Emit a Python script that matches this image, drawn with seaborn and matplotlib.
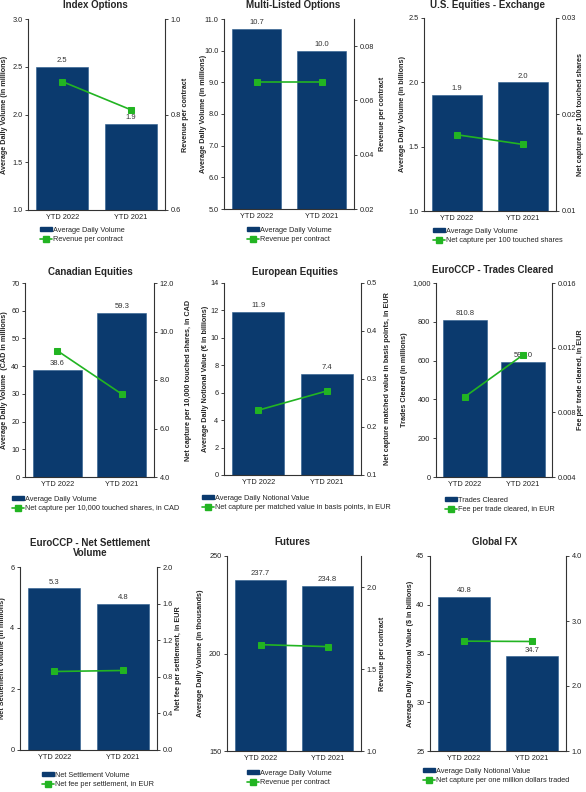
import numpy as np
import matplotlib.pyplot as plt
import matplotlib.ticker as mtick
from matplotlib.patches import Patch
from matplotlib.lines import Line2D
import seaborn as sns

sns.set_style("white")
plt.rcParams['font.family'] = ['Liberation Sans', 'DejaVu Sans']

periods = ["YTD 2022", "YTD 2021"]

# bar series (left axis) and line series (right axis)
index_adv = [2.5, 1.9]
index_rpc = [0.869, 0.810]
multi_adv = [10.7, 10.0]
multi_rpc = [0.0667, 0.0667]
us_eq_adv = [1.9, 2.0]
us_eq_capture = [0.0179, 0.0169]
cad_adv = [38.6, 59.3]
cad_capture = [9.21, 7.42]
eu_adnv = [11.9, 7.4]
eu_capture = [0.235, 0.275]
ccp_trades = [810.8, 593.0]
ccp_fee = [0.00897, 0.01155]
ccp_settle = [5.3, 4.8]
ccp_settle_fee = [0.858, 0.869]
fut_adv = [237.7, 234.8]
fut_rpc = [1.649, 1.637]
fx_adnv = [40.8, 34.7]
fx_capture = [2.69, 2.685]

navy = "#0b3a6e"
green = "#22b422"
W, H = 586, 792

panels = [
    dict(title="Index Options", bars=index_adv, line=index_rpc,
         ylab="Average Daily Volume (in millions)", y2lab="Revenue per contract",
         leg=("Average Daily Volume", "Revenue per contract"),
         ylim=(1.0, 3.0), yt=[1.0, 1.5, 2.0, 2.5, 3.0], yf='{x:.1f}',
         y2lim=(0.6, 1.0), y2t=[0.6, 0.8, 1.0], y2f='{x:.1f}',
         box=(28, 19, 165, 210), ttl=(95, 5), ylx=5, y2lx=185, lg=(40, 227)),
    dict(title="Multi-Listed Options", bars=multi_adv, line=multi_rpc,
         ylab="Average Daily Volume (in millions)", y2lab="Revenue per contract",
         leg=("Average Daily Volume", "Revenue per contract"),
         ylim=(5.0, 11.0), yt=[5, 6, 7, 8, 9, 10, 11], yf='{x:.1f}',
         y2lim=(0.02, 0.09), y2t=[0.02, 0.04, 0.06, 0.08], y2f='{x:.2f}',
         box=(224, 19, 354, 209), ttl=(293, 5), ylx=203, y2lx=383, lg=(247, 227)),
    dict(title="U.S. Equities - Exchange", bars=us_eq_adv, line=us_eq_capture,
         ylab="Average Daily Volume (in billions)", y2lab="Net capture per 100 touched shares",
         leg=("Average Daily Volume", "Net capture per 100 touched shares"),
         ylim=(1.0, 2.5), yt=[1.0, 1.5, 2.0, 2.5], yf='{x:.1f}',
         y2lim=(0.01, 0.03), y2t=[0.01, 0.02, 0.03], y2f='{x:.2f}',
         box=(424, 18, 556, 211), ttl=(487, 5), ylx=403, y2lx=581, lg=(433, 228)),
    dict(title="Canadian Equities", bars=cad_adv, line=cad_capture,
         ylab="Average Daily Volume  (CAD in millions)",
         y2lab="Net capture per 10,000 touched shares, in CAD",
         leg=("Average Daily Volume", "Net capture per 10,000 touched shares, in CAD"),
         ylim=(0, 70), yt=[0, 10, 20, 30, 40, 50, 60, 70], yf='{x:.0f}',
         y2lim=(4.0, 12.0), y2t=[4, 6, 8, 10, 12], y2f='{x:.1f}',
         box=(25, 283, 154, 477), ttl=(90, 272), ylx=5, y2lx=188, lg=(12, 496)),
    dict(title="European Equities", bars=eu_adnv, line=eu_capture,
         ylab="Average Daily Notional Value (€ in billions)",
         y2lab="Net capture matched value in basis points, in EUR",
         leg=("Average Daily Notional Value",
              "Net capture per matched value in basis points, in EUR"),
         ylim=(0, 14), yt=[0, 2, 4, 6, 8, 10, 12, 14], yf='{x:.0f}',
         y2lim=(0.1, 0.5), y2t=[0.1, 0.2, 0.3, 0.4, 0.5], y2f='{x:.1f}',
         box=(224, 283, 361, 475), ttl=(295, 272), ylx=205, y2lx=387, lg=(202, 495)),
    dict(title="EuroCCP - Trades Cleared", bars=ccp_trades, line=ccp_fee,
         ylab="Trades Cleared (in millions)", y2lab="Fee per trade cleared, in EUR",
         leg=("Trades Cleared", "Fee per trade cleared, in EUR"),
         ylim=(0, 1000), yt=[0, 200, 400, 600, 800, 1000], yf='{x:,.0f}',
         y2lim=(0.004, 0.016), y2t=[0.004, 0.008, 0.012, 0.016], y2f='{x:.3f}',
         box=(436, 283, 552, 477), ttl=(493, 270), ylx=405, y2lx=581, lg=(445, 497)),
    dict(title="EuroCCP - Net Settlement\nVolume", bars=ccp_settle, line=ccp_settle_fee,
         ylab="Net Settlement Volume (in millions)", y2lab="Net fee per settlement, in EUR",
         leg=("Net Settlement Volume", "Net fee per settlement, in EUR"),
         ylim=(0, 6), yt=[0, 2, 4, 6], yf='{x:.0f}',
         y2lim=(0.0, 2.0), y2t=[0.0, 0.4, 0.8, 1.2, 1.6, 2.0], y2f='{x:.1f}',
         box=(20, 567, 157, 750), ttl=(90, 548), ylx=3, y2lx=178, lg=(42, 772)),
    dict(title="Futures", bars=fut_adv, line=fut_rpc,
         ylab="Average Daily Volume (in thousands)", y2lab="Revenue per contract",
         leg=("Average Daily Volume", "Revenue per contract"),
         ylim=(150, 250), yt=[150, 200, 250], yf='{x:.0f}',
         y2lim=(1.0, 2.19), y2t=[1.0, 1.5, 2.0], y2f='{x:.1f}',
         box=(227, 556, 361, 751), ttl=(292, 542), ylx=200, y2lx=383, lg=(247, 770)),
    dict(title="Global FX", bars=fx_adnv, line=fx_capture,
         ylab="Average Daily Notional Value ($ in billions)", y2lab="",
         leg=("Average Daily Notional Value", "Net capture per one million dollars traded"),
         ylim=(25, 45), yt=[25, 30, 35, 40, 45], yf='{x:.0f}',
         y2lim=(1.0, 4.0), y2t=[1, 2, 3, 4], y2f='{x:.1f}',
         box=(430, 556, 566, 751), ttl=(495, 542), ylx=410, y2lx=600, lg=(423, 768)),
]

fig = plt.figure(figsize=(W / 100, H / 100), dpi=100)
spine_c = "#333333"

for p in panels:
    x0, yt_, x1, yb = p["box"]
    ax = fig.add_axes([x0 / W, 1 - yb / H, (x1 - x0) / W, (yb - yt_) / H])
    sns.barplot(x=periods, y=p["bars"], ax=ax, color=navy, saturation=1,
                width=0.76, edgecolor="#2a5a8c", linewidth=0.4)
    ax.bar_label(ax.containers[0], fmt='{:.1f}', padding=2, fontsize=5.5,
                 color="#333333")
    ax.set_ylim(*p["ylim"])
    ax.set_yticks(p["yt"])
    ax.yaxis.set_major_formatter(mtick.StrMethodFormatter(p["yf"]))

    ax2 = ax.twinx()
    sns.lineplot(x=np.arange(len(periods)), y=p["line"], ax=ax2, color=green,
                 marker='s', markersize=5, markeredgecolor=green, linewidth=1.2)
    ax2.set_ylim(*p["y2lim"])
    ax2.set_yticks(p["y2t"])
    ax2.yaxis.set_major_formatter(mtick.StrMethodFormatter(p["y2f"]))
    ax.set_xlim(-0.5, 1.5)

    for a in (ax, ax2):
        a.set_xlabel("")
        a.spines["top"].set_visible(False)
        for s in a.spines.values():
            s.set_color(spine_c)
            s.set_linewidth(0.8)
        a.tick_params(axis='both', labelsize=5.3, colors="#222222", length=2.5,
                      width=0.6, pad=1.5)
        a.tick_params(axis='x', length=0, pad=3)
    ax.spines["right"].set_visible(False)
    ax2.spines["left"].set_visible(False)
    ax2.spines["bottom"].set_visible(False)
    ax.tick_params(axis='y', left=True)
    ax2.tick_params(axis='y', right=True)

    # label anchors: left label's right edge / right label's left edge
    ax.set_ylabel(p["ylab"], fontsize=5.2, fontweight='bold')
    ax.yaxis.set_label_coords((p["ylx"] + 3.5 - x0) / (x1 - x0), 0.5)
    ax2.set_ylabel(p["y2lab"], fontsize=5.2, fontweight='bold')
    ax2.yaxis.set_label_coords((p["y2lx"] - 3.5 - x0) / (x1 - x0), 0.5)

    fig.text(p["ttl"][0] / W, 1 - p["ttl"][1] / H, p["title"], ha='center',
             va='center', fontsize=7, fontweight='bold', linespacing=1.0)

    handles = [Patch(facecolor=navy, edgecolor=navy),
               Line2D([], [], color=green, marker='s', markersize=4, lw=1.2)]
    fig.legend(handles, p["leg"], loc='upper left',
               bbox_to_anchor=(p["lg"][0] / W, 1 - p["lg"][1] / H),
               bbox_transform=fig.transFigure, frameon=False, borderpad=0,
               borderaxespad=0, handlelength=1.6, handleheight=0.5,
               handletextpad=0.2, labelspacing=0.3, fontsize=5.3)

fig.savefig("out.png", dpi=100)
